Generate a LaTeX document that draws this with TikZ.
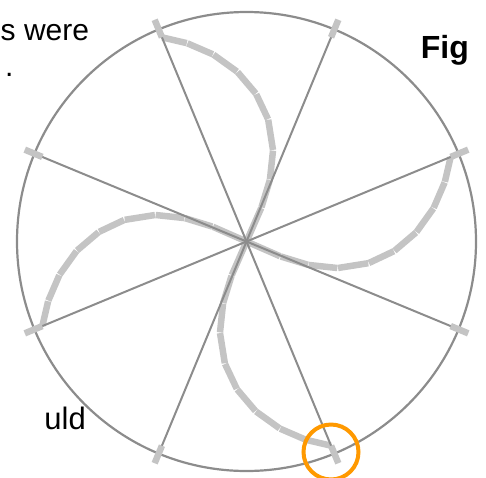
\documentclass[tikz,border=0pt]{standalone}
\usepackage{fontspec}
\setmainfont{Liberation Sans}
\definecolor{spokegray}{HTML}{8C8C8C}
\definecolor{armgray}{HTML}{C4C4C4}
\definecolor{hl}{HTML}{FF9900}
\begin{document}
\begin{tikzpicture}[x=1pt,y=-1pt,
  spoke/.style={draw=spokegray,line width=2pt},
  rim/.style={draw=spokegray,line width=2.2pt},
  tickmark/.style={draw=armgray,line width=6.5pt},
  armseg/.style={draw=armgray,line width=6.5pt,shorten <=0.35pt,shorten >=0.35pt},
  txt/.style={font=\fontsize{30}{36}\selectfont,inner sep=0pt},
  mark circle/.style={draw=hl,line width=4pt}]
\useasboundingbox (0,0) rectangle (486,477);
\clip (0,0) rectangle (486,477);
\def\cx{246.5}
\def\cy{241.5}
\coordinate (c) at (\cx,\cy);
\draw[rim] (c) circle[radius=229.5];
% spiral arms
\foreach \E in {22.5,112.5,202.5,292.5}{
  \foreach \ra/\rb in {0/37,37/66,66/95,95/124,124/148,148/170,170/190,190/207,207/221}{
    \pgfmathsetmacro\ta{\E-47.5+47.5*(\ra/221)^2}
    \pgfmathsetmacro\tb{\E-47.5+47.5*(\rb/221)^2}
    \coordinate (pa) at ({\cx+\ra*cos(\ta)},{\cy-\ra*sin(\ta)});
    \coordinate (pb) at ({\cx+\rb*cos(\tb)},{\cy-\rb*sin(\tb)});
    \draw[armseg] (pa) -- (pb);
  }
}
% spokes and end ticks
\foreach \a in {22.5,67.5,...,337.5}{
  \coordinate (rimpt) at ({\cx+229.5*cos(\a)},{\cy-229.5*sin(\a)});
  \coordinate (tin) at ({\cx+221*cos(\a)},{\cy-221*sin(\a)});
  \coordinate (tout) at ({\cx+240*cos(\a)},{\cy-240*sin(\a)});
  \draw[spoke] (c) -- (rimpt);
  \draw[tickmark] (tin) -- (tout);
}
\node[mark circle,circle,minimum size=55pt,inner sep=0pt] (hlc) at (331,452) {};
\node[txt,anchor=base west] (t1) at (0.5,40) {s were};
\node[txt,anchor=base west] (t2) at (5,76) {.};
\node[txt,font=\fontsize{32}{36}\selectfont\bfseries,anchor=base east] (t3) at (469,58) {Fig};
\node[txt,font=\fontsize{31}{36}\selectfont,anchor=base east] (t4) at (86,429) {uld};
\end{tikzpicture}
\end{document}
